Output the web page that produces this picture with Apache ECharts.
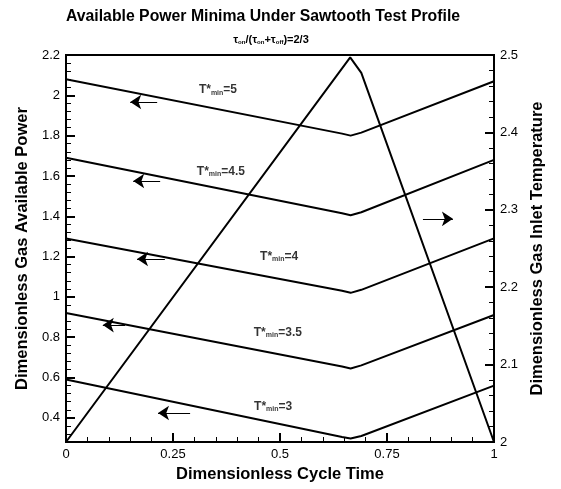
<!DOCTYPE html>
<html>
<head>
<meta charset="utf-8">
<script src="https://cdn.jsdelivr.net/npm/echarts@6/dist/echarts.min.js"></script>
<style>
  html, body { margin: 0; padding: 0; background: #fff; }
  #chart { width: 561px; height: 489px; }
</style>
</head>
<body>
<div id="chart"></div>
<script>
// power curves, [cycle time, available power]
var power5  = [[0, 2.08], [0.645, 1.81], [0.665, 1.80], [0.69, 1.815], [1, 2.07]];
var power45 = [[0, 1.69], [0.645, 1.415], [0.665, 1.405], [0.69, 1.42], [1, 1.68]];
var power4  = [[0, 1.29], [0.645, 1.03], [0.665, 1.02], [0.69, 1.035], [1, 1.29]];
var power35 = [[0, 0.92], [0.645, 0.655], [0.665, 0.645], [0.69, 0.66], [1, 0.91]];
var power3  = [[0, 0.59], [0.645, 0.305], [0.665, 0.297], [0.69, 0.31], [1, 0.56]];
// sawtooth inlet temperature (right axis)
var sawtooth = [[0, 2.0], [0.664, 2.497], [0.69, 2.477], [1, 2.0]];

// curve labels: [t, power, Tmin]
var curveLabels = [[0.355, 2.026, '5'], [0.362, 1.62, '4.5'], [0.498, 1.198, '4'], [0.495, 0.821, '3.5'], [0.484, 0.454, '3']];
// arrows: [tail t, tail v, head t, head v]
var arrows = [
  [0.213, 1.967, 0.150, 1.967],
  [0.220, 1.575, 0.157, 1.575],
  [0.231, 1.188, 0.166, 1.188],
  [0.138, 0.860, 0.086, 0.860],
  [0.290, 0.424, 0.215, 0.424],
  [0.834, 1.387, 0.904, 1.387]
];

var leftTicks = [0.4, 0.6, 0.8, 1, 1.2, 1.4, 1.6, 1.8, 2, 2.2];

var myChart = echarts.init(document.getElementById('chart'));

var fontFam = '"Liberation Sans", Arial, sans-serif';

function curve(data) {
  return {
    type: 'line',
    data: data,
    showSymbol: false,
    lineStyle: { color: '#000', width: 2 },
    xAxisIndex: 0,
    yAxisIndex: 0,
    z: 3
  };
}

var option = {
  animation: false,
  backgroundColor: '#fff',
  textStyle: { fontFamily: fontFam, color: '#000' },
  title: [{
    text: 'Available Power Minima Under Sawtooth Test Profile',
    left: 258,
    textAlign: 'center',
    top: 4,
    textStyle: { fontSize: 15.8, fontWeight: 'bold', color: '#000', fontFamily: fontFam }
  }, {
    text: '{a|τ}{s|on}{a|/(τ}{s|on}{a|+τ}{s|off}{a|)=2/3}',
    left: 266,
    textAlign: 'center',
    top: 29,
    textStyle: {
      rich: {
        a: { fontSize: 11, fontWeight: 'bold', color: '#000', fontFamily: fontFam },
        s: { fontSize: 6, fontWeight: 'bold', color: '#000', fontFamily: fontFam, verticalAlign: 'bottom' }
      }
    }
  }],
  grid: {
    left: 66, right: 67, top: 55, bottom: 47,
    show: true, borderColor: '#000', borderWidth: 2, backgroundColor: 'transparent'
  },
  xAxis: [{
    type: 'value',
    min: 0, max: 1, interval: 0.25,
    name: 'Dimensionless Cycle Time',
    nameLocation: 'middle',
    nameGap: 22,
    nameTextStyle: { fontSize: 16.5, fontWeight: 'bold', color: '#000' },
    axisLine: { lineStyle: { color: '#000', width: 2 } },
    axisTick: { inside: true, length: 9, lineStyle: { color: '#000', width: 2 } },
    minorTick: { show: true, splitNumber: 5, length: 5, lineStyle: { color: '#000', width: 1 } },
    axisLabel: { fontSize: 13, color: '#000', margin: 6 },
    splitLine: { show: false }
  }],
  yAxis: [{
    type: 'value',
    position: 'left',
    min: 0.28, max: 2.2,
    name: 'Dimensionless Gas Available Power',
    nameLocation: 'middle',
    nameGap: 33,
    nameTextStyle: { fontSize: 16.5, fontWeight: 'bold', color: '#000' },
    axisLine: { show: true, lineStyle: { color: '#000', width: 2 } },
    axisTick: { show: true, inside: true, length: 9, customValues: leftTicks, lineStyle: { color: '#000', width: 2 } },
    axisLabel: { fontSize: 13, color: '#000', margin: 6, customValues: leftTicks },
    splitLine: { show: false }
  }, {
    // minor ticks of the left axis
    type: 'value',
    position: 'left',
    min: 0.28, max: 2.2, interval: 0.04,
    axisLine: { show: false },
    axisTick: { show: true, inside: true, length: 5, lineStyle: { color: '#000', width: 1 } },
    axisLabel: { show: false },
    splitLine: { show: false }
  }, {
    type: 'value',
    position: 'right',
    min: 2, max: 2.5, interval: 0.1,
    name: 'Dimensionless Gas Inlet Temperature',
    nameLocation: 'middle',
    nameGap: 35,
    nameRotate: 90,
    nameTextStyle: { fontSize: 16.5, fontWeight: 'bold', color: '#000' },
    axisLine: { show: true, lineStyle: { color: '#000', width: 2 } },
    axisTick: { inside: true, length: 9, lineStyle: { color: '#000', width: 2 } },
    minorTick: { show: true, splitNumber: 5, length: 5, lineStyle: { color: '#000', width: 1 } },
    axisLabel: { fontSize: 13, color: '#000', margin: 6 },
    splitLine: { show: false }
  }],
  series: [
    curve(power5),
    curve(power45),
    curve(power4),
    curve(power35),
    curve(power3),
    {
      type: 'line',
      data: sawtooth,
      showSymbol: false,
      lineStyle: { color: '#000', width: 2 },
      xAxisIndex: 0,
      yAxisIndex: 2,
      z: 3
    },
    {
      type: 'lines',
      coordinateSystem: 'cartesian2d',
      xAxisIndex: 0,
      yAxisIndex: 0,
      symbol: ['none', 'arrow'],
      symbolSize: [6, 11],
      lineStyle: { color: '#000', width: 1, opacity: 1 },
      data: arrows.map(function (a) {
        return { coords: [[a[0], a[1]], [a[2], a[3]]] };
      }),
      z: 4
    },
    {
      type: 'scatter',
      xAxisIndex: 0,
      yAxisIndex: 0,
      symbolSize: 0,
      data: curveLabels.map(function (c) { return [c[0], c[1], c[2]]; }),
      label: {
        show: true,
        position: 'inside',
        formatter: function (p) {
          return '{t|T*}{s|min}{t|=' + p.data[2] + '}';
        },
        rich: {
          t: { fontSize: 12, fontWeight: 'bold', color: '#000', fontFamily: fontFam },
          s: { fontSize: 7, fontWeight: 'bold', color: '#000', fontFamily: fontFam, verticalAlign: 'bottom', padding: [5, 0, 0, 0] }
        }
      },
      z: 5
    }
  ]
};

myChart.setOption(option);
</script>
</body>
</html>
